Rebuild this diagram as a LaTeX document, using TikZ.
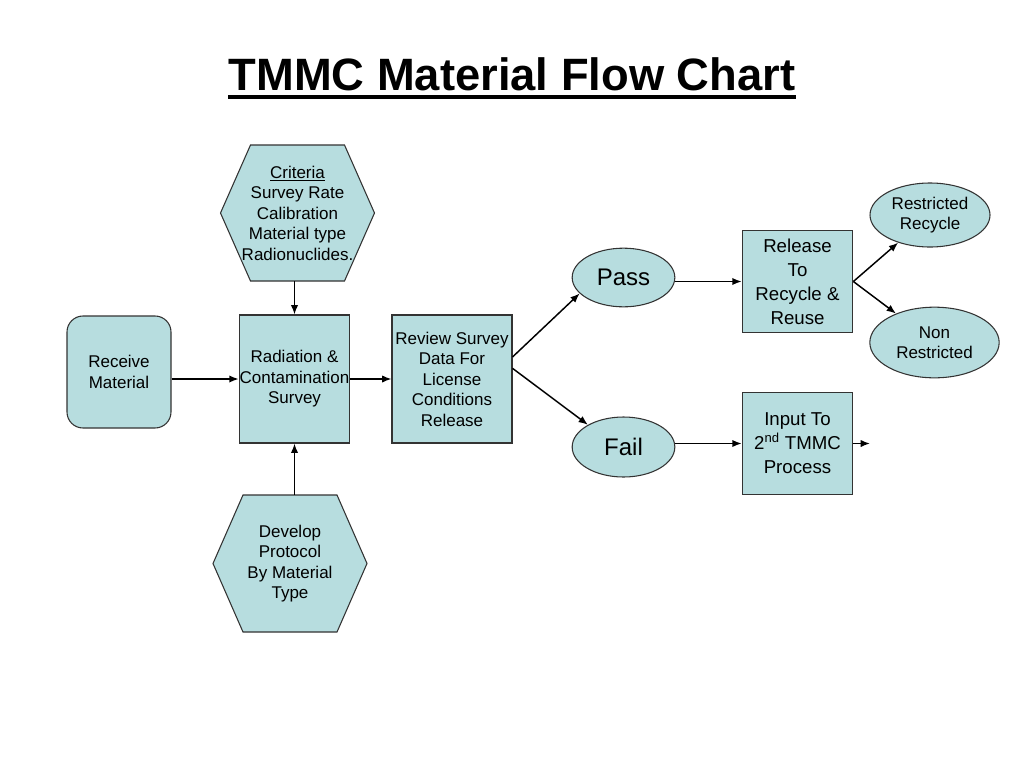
\documentclass[tikz,border=0pt]{standalone}
\usepackage{fontspec}
\setmainfont{Liberation Sans}
\usetikzlibrary{shapes.geometric,arrows.meta,backgrounds}
\definecolor{flowfill}{RGB}{183,221,223}
\begin{document}
\begin{tikzpicture}[x=0.75pt,y=-0.75pt,
    every node/.style={align=center,inner sep=0pt,font=\fontsize{12.75}{15.4}\selectfont},
    box/.style={draw=black!80,line width=0.8pt,fill=flowfill,rectangle},
    oval/.style={draw=black!80,line width=0.8pt,fill=flowfill,ellipse},
    hexa/.style={draw=black!80,line width=0.8pt,fill=flowfill},
    flow/.style={line width=1.1pt,-{Latex[length=7pt,width=5.5pt]}}]
  \useasboundingbox (0,0) rectangle (1024,768);
  \node[anchor=base,font=\fontsize{34}{40}\selectfont\bfseries] (title) at (512,90) {TMMC Material Flow Chart};
  \draw[line width=3pt] ([yshift=-5pt]title.base west) -- ([yshift=-5pt]title.base east);

  \node[box,rounded corners=12pt,minimum width=78pt,minimum height=84pt] (rec) at (119,372) {Receive\\Material};
  \node[box,minimum width=83pt,minimum height=96pt] (rad) at (294.5,379) {Radiation \&\\Contamination\\Survey};
  \node[box,minimum width=90pt,minimum height=96pt] (rev) at (452,379) {Review Survey\\Data For\\License\\Conditions\\Release};
  \node[minimum height=102pt] (crit) at (297.5,213) {\underline{Criteria}\\Survey Rate\\Calibration\\Material type\\Radionuclides.};
  \node[minimum height=102.75pt] (dev) at (290,563.5) {Develop\\Protocol\\By Material\\Type};
  \node[oval,minimum width=77pt,minimum height=44pt,font=\fontsize{18}{22}\selectfont] (pass) at (623.5,277.5) {Pass};
  \node[oval,minimum width=77pt,minimum height=45pt,font=\fontsize{18}{22}\selectfont] (fail) at (623.5,447) {Fail};
  \node[box,minimum width=83pt,minimum height=77pt,font=\fontsize{14}{18}\selectfont] (rel) at (797.5,281.5) {Release\\To\\Recycle \&\\Reuse};
  \node[box,minimum width=83pt,minimum height=77pt,font=\fontsize{14}{18}\selectfont] (inp) at (797.5,443.5) {Input To\\2\textsuperscript{nd} TMMC\\Process};
  \node[oval,minimum width=90pt,minimum height=48pt] (restr) at (930,215) {Restricted\\Recycle};
  \node[oval,minimum width=97pt,minimum height=53pt] (nonres) at (934.5,342.5) {Non\\Restricted};
  \coordinate (out) at (870,443.5);

  \begin{scope}[on background layer]
    \draw[hexa,shift={(crit)}] (-47,-68) -- (47,-68) -- (77,0) -- (47,68) -- (-47,68) -- (-77,0) -- cycle;
    \draw[hexa,shift={(dev)}] (-47,-68.5) -- (47,-68.5) -- (77,0) -- (47,68.5) -- (-47,68.5) -- (-77,0) -- cycle;
  \end{scope}

  \draw[flow] (crit.south -| rad.north) -- (rad.north);
  \draw[flow] (dev.north -| rad.south) -- (rad.south);
  \draw[flow] (rec.east |- rad.west) -- (rad.west);
  \draw[flow] (rad.east) -- (rev.west);
  \draw[flow] (rev.20) -- (pass.200);
  \draw[flow] (rev.10) -- (fail.148);
  \draw[flow] (pass.east |- rel.west) -- (rel.west);
  \draw[flow] (fail.east |- inp.west) -- (inp.west);
  \draw[flow] (rel.east) -- (restr);
  \draw[flow] (rel.east) -- (nonres);
  \draw[flow] (inp.east) -- (out);
\end{tikzpicture}
\end{document}
